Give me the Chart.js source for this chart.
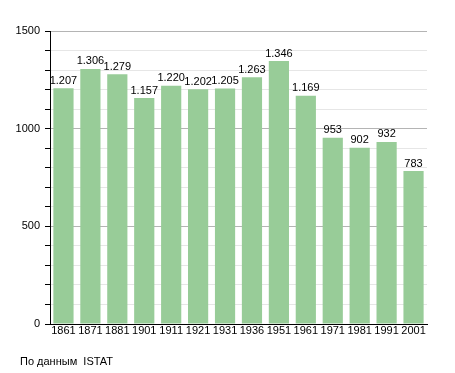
<!DOCTYPE html>
<html>
<head>
<meta charset="utf-8">
<script src="https://cdn.jsdelivr.net/npm/chart.js@4"></script>
<style>
    html, body { margin: 0; padding: 0; background: #fff; }
    #wrap { position: relative; width: 455px; height: 373px; }
    #note {
        position: absolute; left: 20px; top: 355px;
        font: 11px "Liberation Sans", Arial, sans-serif; color: #000;
        white-space: pre;
    }
</style>
</head>
<body>
<div id="wrap">
    <canvas id="chart" width="455" height="373"></canvas>
    <div id="note">По данным  ISTAT</div>
</div>
<script>
const years = ["1861", "1871", "1881", "1901", "1911", "1921", "1931", "1936", "1951", "1961", "1971", "1981", "1991", "2001"];
const population = [1207, 1306, 1279, 1157, 1220, 1202, 1205, 1263, 1346, 1169, 953, 902, 932, 783];
const yTicks = [0, 500, 1000, 1500];

const FONT = "'Liberation Sans', Arial, sans-serif";

// dot as thousands separator, like 1.207
function fmt(v) {
    return v >= 1000 ? Math.floor(v / 1000) + "." + String(v % 1000).padStart(3, "0") : String(v);
}

const valueLabels = {
    id: "valueLabels",
    afterDatasetsDraw(chart) {
        const c = chart.ctx;
        const meta = chart.getDatasetMeta(0);
        c.save();
        c.font = "11px " + FONT;
        c.fillStyle = "#000";
        c.textAlign = "center";
        c.textBaseline = "bottom";
        meta.data.forEach(function (bar, i) {
            c.fillText(fmt(population[i]), bar.x, bar.y - 2);
        });
        c.restore();
    }
};

new Chart(document.getElementById("chart"), {
    type: "bar",
    data: {
        labels: years,
        datasets: [{
            data: population,
            backgroundColor: "rgb(152, 204, 152)",
            borderWidth: 0,
            barPercentage: 0.75,
            categoryPercentage: 1
        }]
    },
    options: {
        responsive: false,
        animation: false,
        layout: { padding: { top: 31, right: 28, bottom: 0, left: 0 } },
        plugins: {
            legend: { display: false },
            tooltip: { enabled: false }
        },
        scales: {
            x: {
                grid: { display: false, drawTicks: false },
                border: { display: true, color: "#000", width: 1 },
                ticks: { color: "#000", font: { family: FONT, size: 11 }, padding: 0, maxRotation: 0, autoSkip: false },
                afterFit(scale) { scale.height = 49; }
            },
            y: {
                min: 0,
                max: 1500,
                border: { display: true, color: "#000", width: 1 },
                grid: {
                    color: function (ctx) {
                        return ctx.tick && ctx.tick.value % 500 === 0 ? "#b4b4b4" : "#e6e6e6";
                    },
                    tickColor: "#000",
                    tickLength: 5,
                    drawTicks: true
                },
                ticks: {
                    stepSize: 100,
                    autoSkip: false,
                    color: "#000",
                    padding: 5,
                    font: { family: FONT, size: 11 },
                    callback: function (v) { return yTicks.includes(v) ? String(v) : ""; }
                },
                afterFit(scale) { scale.width = 50; }
            }
        }
    },
    plugins: [valueLabels]
});
</script>
</body>
</html>
